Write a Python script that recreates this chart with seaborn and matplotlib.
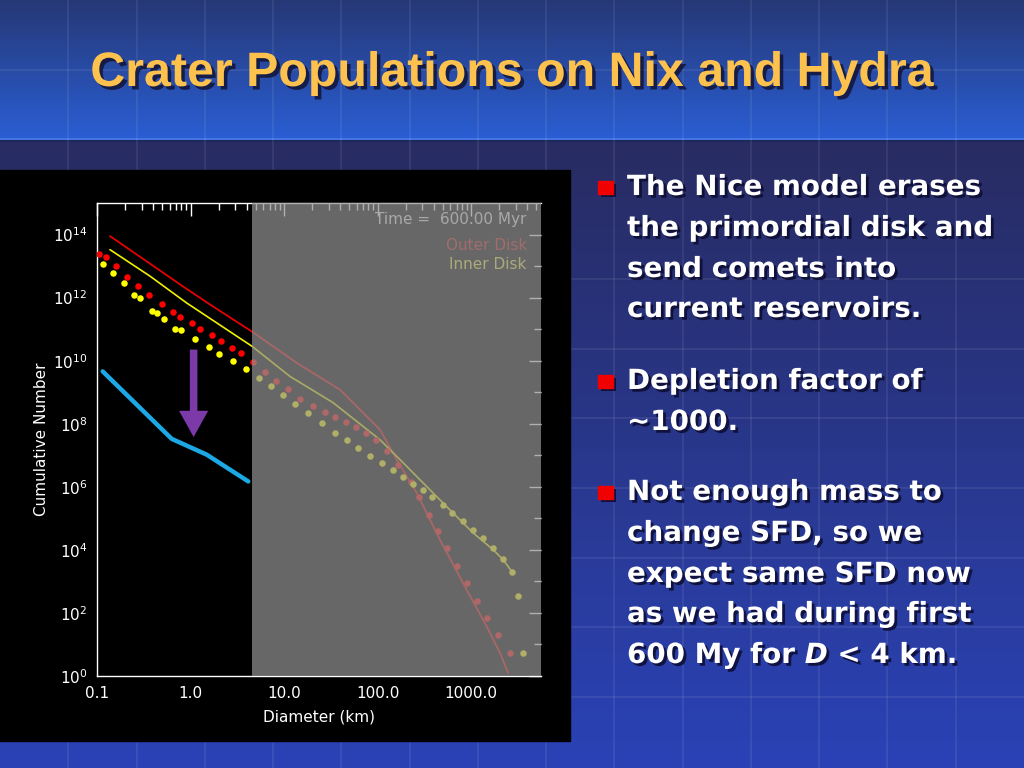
import numpy as np
import pandas as pd
import matplotlib
matplotlib.use("Agg")
import matplotlib.pyplot as plt
import matplotlib.patheffects as pe
from matplotlib.patches import Rectangle
from matplotlib.ticker import FixedLocator, NullFormatter
import seaborn as sns

# === Data (log10 values) ===
outer_line_logd = [-0.861, -0.083, 0.209, 0.658, 1.136, 1.599, 2.027, 2.205, 2.419, 2.668, 2.954, 3.168, 3.310, 3.396]
outer_line_logn = [13.95, 12.36, 11.78, 10.92, 9.93, 9.08, 7.81, 6.86, 5.81, 4.32, 2.73, 1.57, 0.73, 0.10]

inner_line_logd = [-0.861, -0.433, -0.041, 0.661, 1.064, 1.524, 2.027, 2.241, 2.455, 2.740, 3.025, 3.238, 3.346, 3.439]
inner_line_logn = [13.52, 12.68, 11.83, 10.45, 9.50, 8.67, 7.49, 6.86, 6.22, 5.37, 4.53, 4.00, 3.68, 3.30]

outer_dots_logd = [-0.979, -0.907, -0.797, -0.682, -0.566, -0.441, -0.305, -0.184, -0.109, 0.013,
                   0.102, 0.227, 0.323, 0.441, 0.537, 0.672, 0.797, 0.911, 1.046, 1.171,
                   1.307, 1.435, 1.545, 1.663, 1.773, 1.880, 1.987, 2.098, 2.216, 2.355,
                   2.447, 2.554, 2.647, 2.747, 2.853, 2.960, 3.067, 3.174, 3.286, 3.417]
outer_dots_logn = [13.39, 13.28, 12.99, 12.66, 12.36, 12.09, 11.80, 11.53, 11.40, 11.18,
                   10.99, 10.80, 10.63, 10.39, 10.23, 9.95, 9.63, 9.37, 9.10, 8.80,
                   8.56, 8.37, 8.20, 8.05, 7.90, 7.71, 7.49, 7.15, 6.70, 6.15,
                   5.67, 5.11, 4.60, 4.05, 3.50, 2.94, 2.39, 1.83, 1.30, 0.72]

inner_dots_logd = [-0.939, -0.826, -0.714, -0.601, -0.537, -0.415, -0.358, -0.280, -0.169, -0.098,
                   0.051, 0.195, 0.308, 0.458, 0.594, 0.736, 0.858, 0.993, 1.118, 1.260,
                   1.403, 1.545, 1.671, 1.795, 1.920, 2.045, 2.163, 2.270, 2.376, 2.483,
                   2.583, 2.697, 2.797, 2.911, 3.018, 3.125, 3.238, 3.346, 3.442, 3.506, 3.553]
inner_dots_logn = [13.08, 12.78, 12.45, 12.07, 12.00, 11.56, 11.50, 11.33, 10.99, 10.96,
                   10.68, 10.42, 10.21, 9.98, 9.74, 9.45, 9.21, 8.92, 8.64, 8.35,
                   8.02, 7.71, 7.48, 7.23, 6.98, 6.75, 6.52, 6.31, 6.10, 5.90,
                   5.67, 5.42, 5.17, 4.91, 4.63, 4.37, 4.05, 3.70, 3.30, 2.55, 0.72]

observed_logd = [-0.939, -0.201, 0.173, 0.618]
observed_logn = [9.66, 7.52, 7.02, 6.17]

arrow_d = 1.08
arrow_n_top = 10.44
arrow_n_tip = 7.49
cutoff_d = 4.6

x_ticks = [0.1, 1.0, 10.0, 100.0, 1000.0]
x_ticklabels = ["0.1", "1.0", "10.0", "100.0", "1000.0"]
y_major_exp = [0, 2, 4, 6, 8, 10, 12, 14]

title = "Crater Populations on Nix and Hydra"
bullets = [
    ["The Nice model erases", "the primordial disk and", "send comets into", "current reservoirs."],
    ["Depletion factor of", "~1000."],
    ["Not enough mass to", "change SFD, so we", "expect same SFD now", "as we had during first", "600 My for "],
]
bullet_baselines = [[195, 236, 277, 317], [389, 430], [500, 541, 582, 622, 663]]


def to_df(logd, logn):
    return pd.DataFrame({"D": np.power(10.0, logd), "N": np.power(10.0, logn)})


outer_line = to_df(outer_line_logd, outer_line_logn)
inner_line = to_df(inner_line_logd, inner_line_logn)
outer_dots = to_df(outer_dots_logd, outer_dots_logn)
inner_dots = to_df(inner_dots_logd, inner_dots_logn)
observed = to_df(observed_logd, observed_logn)

# === Figure + slide background ===
sns.set_style("dark")
plt.rcParams["font.family"] = ["DejaVu Sans"]
fig = plt.figure(figsize=(10.24, 7.68), dpi=100)

bg = fig.add_axes([0, 0, 1, 1])
bg.set_xlim(0, 1024)
bg.set_ylim(768, 0)
bg.axis("off")

top_c0 = np.array([38, 56, 118]) / 255
top_c1 = np.array([42, 94, 212]) / 255
low_c0 = np.array([40, 44, 98]) / 255
low_c1 = np.array([42, 66, 182]) / 255
grad = np.zeros((768, 1, 3))
for r in range(768):
    if r < 140:
        t = r / 139
        grad[r, 0] = top_c0 + (top_c1 - top_c0) * t
    else:
        t = (r - 140) / 627
        grad[r, 0] = low_c0 + (low_c1 - low_c0) * t
bg.imshow(grad, aspect="auto", extent=(0, 1024, 768, 0), zorder=0, interpolation="bilinear")
bg.axhline(139, color="#4a78e8", lw=1.2, zorder=1)
bg.axhline(141, color="#1c2658", lw=1.2, zorder=1)
for k in range(1, 15):
    bg.axvline(1024 / 15 * k, color="white", alpha=0.07, lw=1.5, zorder=1)
bg.axhline(70, color="white", alpha=0.07, lw=1.5, zorder=1)
for k in range(7):
    bg.axhline(697 - 69.7 * k, color="white", alpha=0.07, lw=1.5, zorder=1)

bg.add_patch(Rectangle((0, 170), 570, 571, color="black", zorder=2))

# Title
bg.text(512, 86, title, ha="center", va="baseline", fontsize=34.8, fontweight="bold",
        family=["Liberation Sans", "DejaVu Sans"], color="#fdc14e", zorder=3,
        path_effects=[pe.withSimplePatchShadow(offset=(2.5, -2.5), shadow_rgbFace="#101030", alpha=0.8)])

# Bullets
shadow = [pe.withSimplePatchShadow(offset=(2, -2), shadow_rgbFace="#0c0c30", alpha=0.85)]
txt_font = dict(fontsize=20, fontweight="bold", family=["DejaVu Sans"], color="white")
last = None
for lines, ys in zip(bullets, bullet_baselines):
    bg.add_patch(Rectangle((598, ys[0] - 14), 15, 13, color="#f00000", zorder=3,
                           path_effects=shadow))
    for line, y in zip(lines, ys):
        last = bg.text(627, y, line, ha="left", va="baseline", zorder=3, path_effects=shadow, **txt_font)

# last line: "600 My for D < 4 km." with italic D
fig.canvas.draw()
renderer = fig.canvas.get_renderer()
x_next = last.get_window_extent(renderer).x1
t_d = bg.text(x_next, 663, "D", ha="left", va="baseline", zorder=3, path_effects=shadow,
              fontstyle="italic", **txt_font)
x_next = t_d.get_window_extent(renderer).x1
bg.text(x_next, 663, " < 4 km.", ha="left", va="baseline", zorder=3, path_effects=shadow, **txt_font)

# === Plot ===
ax = fig.add_axes([97 / 1024, (768 - 676) / 768, 444 / 1024, 473 / 768])
ax.set_facecolor("black")
ax.set_xscale("log")
ax.set_yscale("log")

sns.lineplot(data=outer_line, x="D", y="N", color="#e60000", lw=1.3, ax=ax, zorder=3, sort=False)
sns.lineplot(data=inner_line, x="D", y="N", color="#f0f000", lw=1.2, ax=ax, zorder=3, sort=False)
sns.scatterplot(data=outer_dots, x="D", y="N", color="#ff0000", s=22, linewidth=0, ax=ax, zorder=3)
sns.scatterplot(data=inner_dots, x="D", y="N", color="#ffff00", s=22, linewidth=0, ax=ax, zorder=3)
sns.lineplot(data=observed, x="D", y="N", color="#1ba8e4", lw=3.2, ax=ax, zorder=3, sort=False)

ax.annotate("", xy=(arrow_d, 10 ** arrow_n_tip), xytext=(arrow_d, 10 ** arrow_n_top),
            arrowprops=dict(arrowstyle="simple,head_length=0.9,head_width=1.0,tail_width=0.26",
                            mutation_scale=21, color="#7b3aa8", lw=0), zorder=3)

ax.text(0.968, 0.966, "Time =  600.00 Myr", transform=ax.transAxes, ha="right", va="center",
        color="#e8e8e8", fontsize=11, zorder=3)
ax.text(0.968, 0.911, "Outer Disk", transform=ax.transAxes, ha="right", va="center",
        color="#d01010", fontsize=11, zorder=3)
ax.text(0.968, 0.871, "Inner Disk", transform=ax.transAxes, ha="right", va="center",
        color="#f0f040", fontsize=11, zorder=3)

ax.axvspan(cutoff_d, 5600, color="#909090", alpha=0.72, lw=0, zorder=5)

ax.set_xlim(0.1, 5600)
ax.set_ylim(1, 1e15)
ax.xaxis.set_major_locator(FixedLocator(x_ticks))
ax.set_xticklabels(x_ticklabels)
ax.xaxis.set_minor_locator(FixedLocator([m * 10.0 ** e for e in range(-1, 4) for m in range(2, 10)]))
ax.xaxis.set_minor_formatter(NullFormatter())
ax.yaxis.set_major_locator(FixedLocator([10.0 ** e for e in y_major_exp]))
ax.set_yticklabels([r"$10^{%d}$" % e for e in y_major_exp])
ax.yaxis.set_minor_locator(FixedLocator([10.0 ** e for e in range(1, 15, 2)]))
ax.yaxis.set_minor_formatter(NullFormatter())

ax.tick_params(which="both", direction="in", top=True, right=True, colors="white",
               labelcolor="white", labelsize=11, width=1)
ax.tick_params(which="major", length=9, pad=7)
ax.tick_params(which="minor", length=5)
ax.grid(False)
for side in ["left", "bottom", "top", "right"]:
    ax.spines[side].set_color("white")
    ax.spines[side].set_linewidth(1)
ax.spines["right"].set_visible(False)

ax.set_xlabel("Diameter (km)", color="white", fontsize=11, labelpad=6)
ax.set_ylabel("Cumulative Number", color="white", fontsize=11, labelpad=3)

fig.savefig("out.png", dpi=100)
